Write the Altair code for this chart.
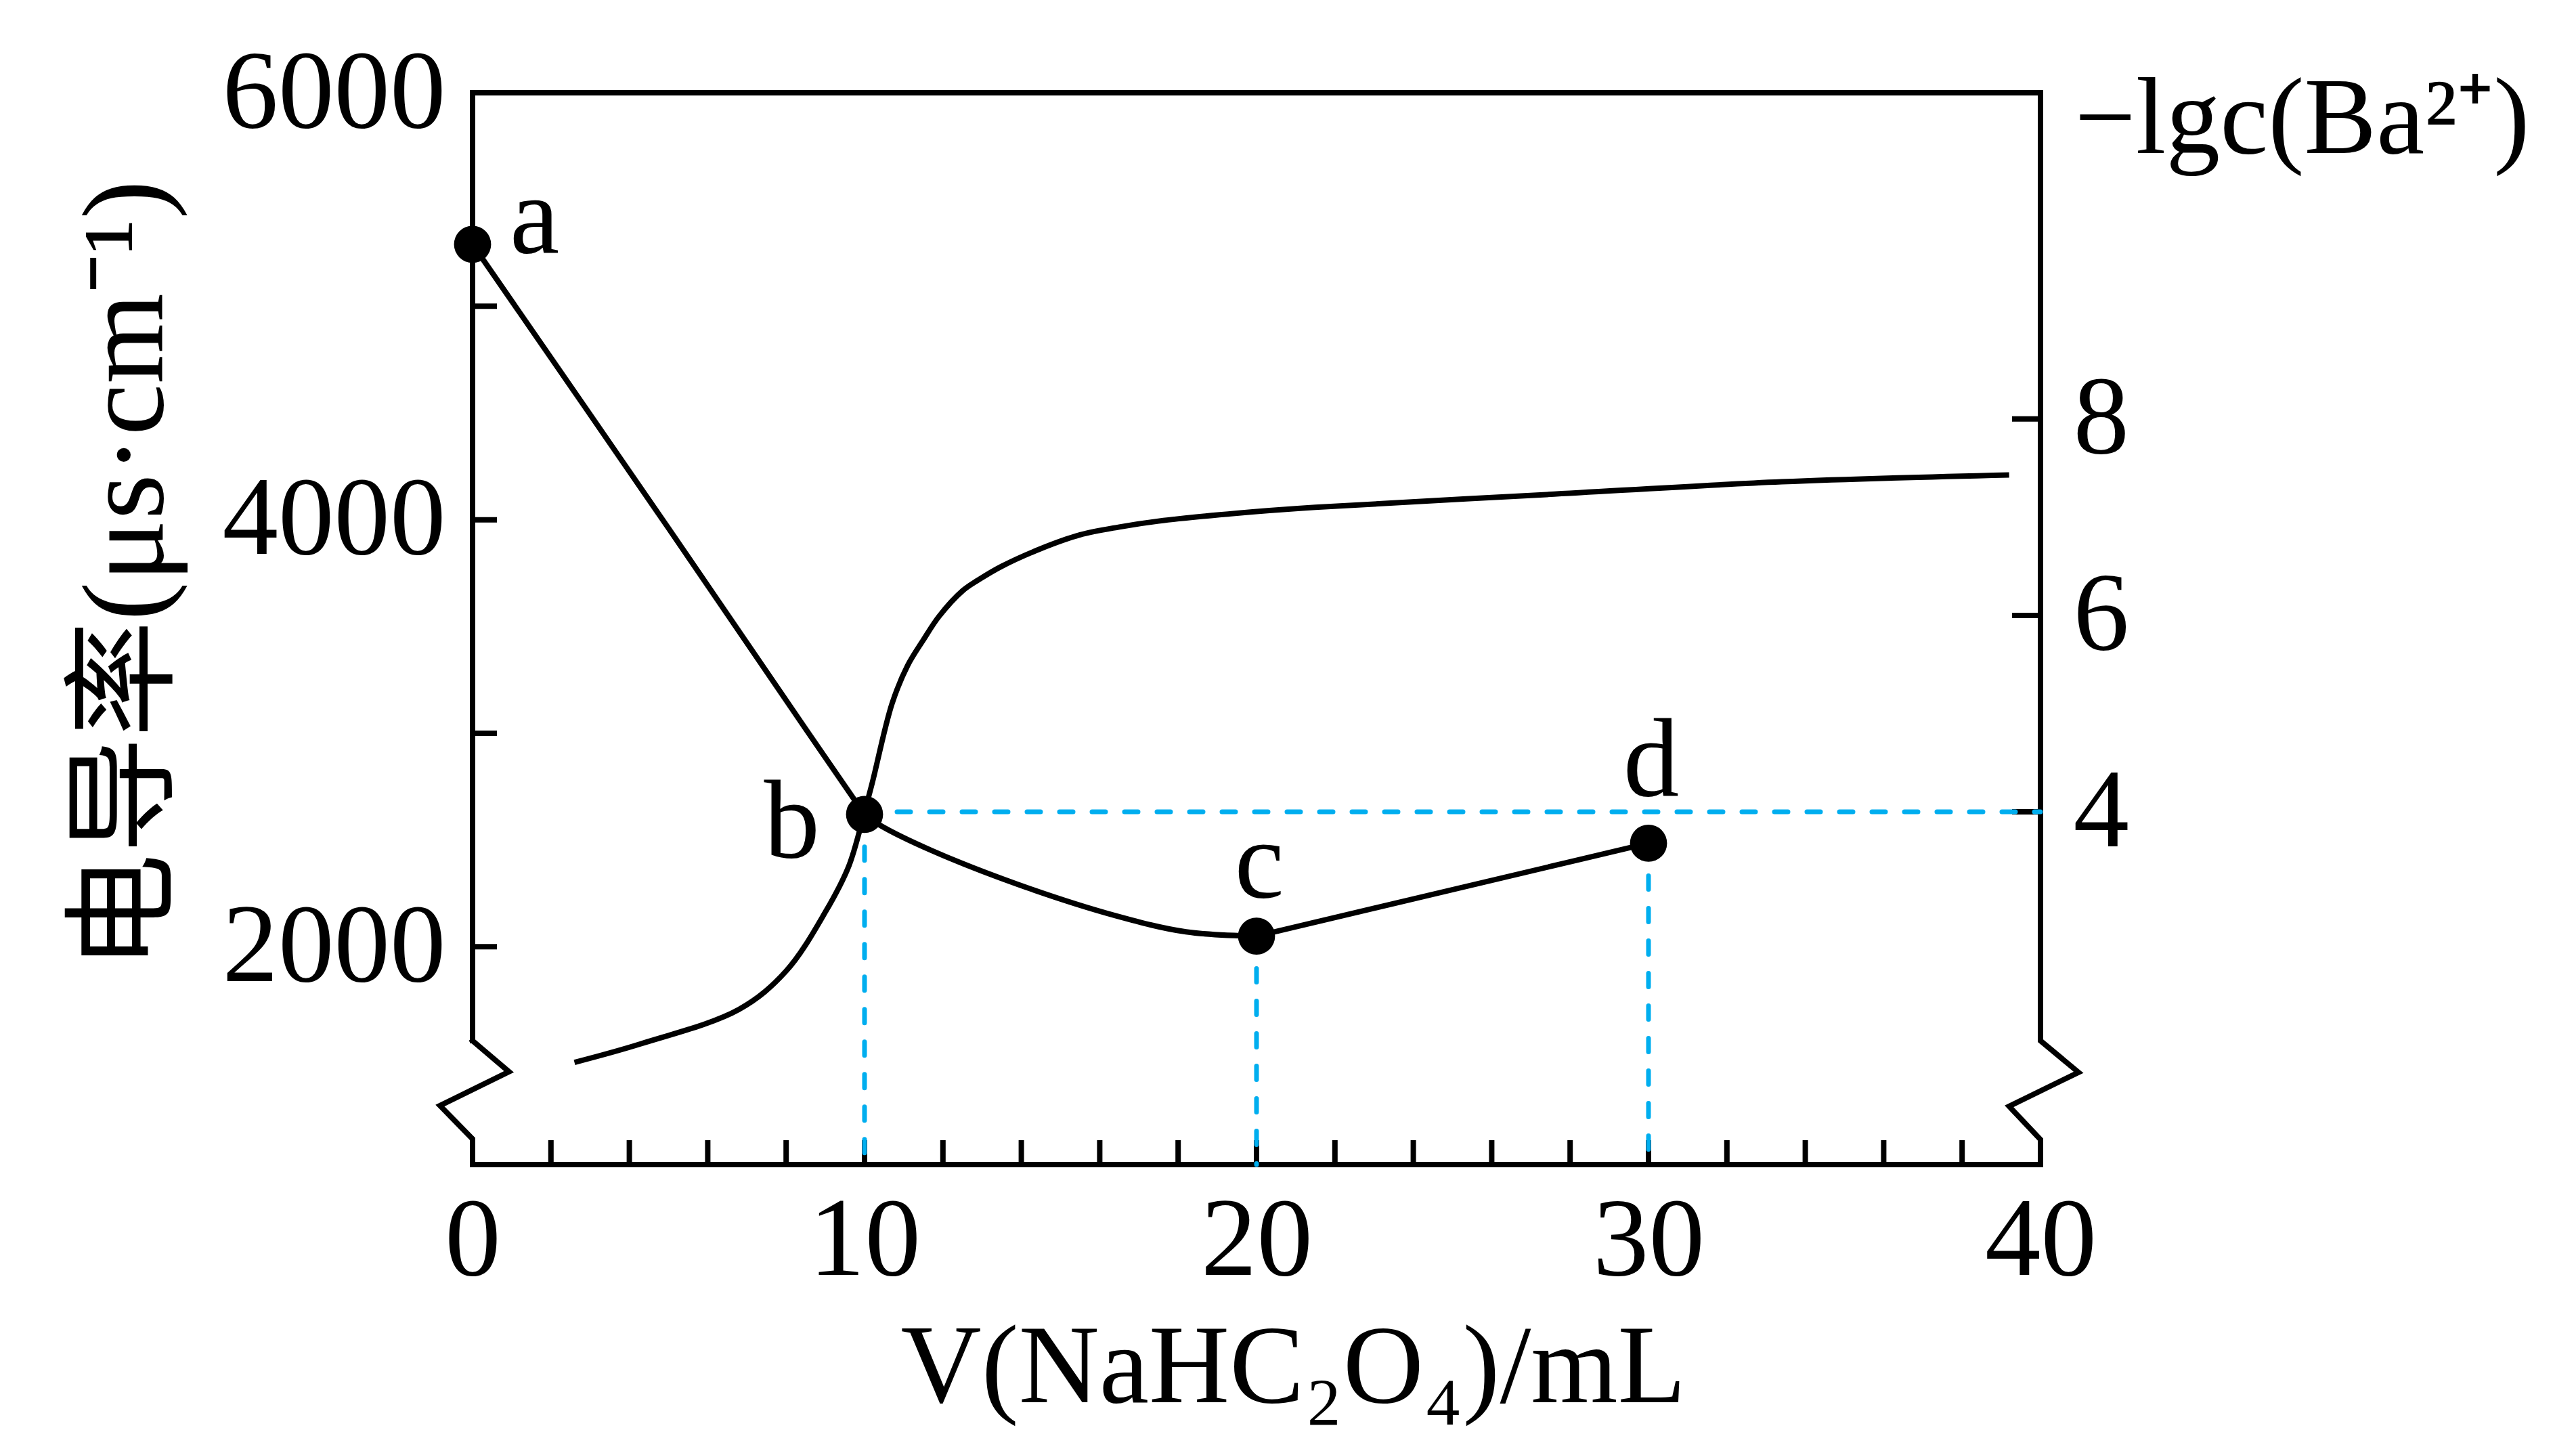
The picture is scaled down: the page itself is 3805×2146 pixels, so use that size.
import altair as alt
import pandas as pd

# ---------------- data ----------------
# conductivity curve (left axis), three segments a-b, b-c, c-d
vol_ab = [0, 5, 8.5, 10]
cond_ab = [5290, 3960, 3020, 2620]
vol_bc = [10, 10.4, 11.7, 13.9, 16.4, 18.2, 20]
cond_bc = [2620, 2569, 2452, 2293, 2146, 2070, 2050]
vol_cd = [20, 30]
cond_cd = [2050, 2485]

# -lg c(Ba2+) curve (right axis)
vol_ba = [2.6, 4.3, 6.8, 8.0, 9.0, 9.6, 10.0, 10.2, 10.7, 11.1, 11.5, 11.9, 12.5,
          12.9, 13.5, 14.5, 15.5, 16.5, 17.5, 19.5, 21.5, 27.4, 33.4, 39.2]
lg_ba = [1.45, 1.64, 1.99, 2.38, 2.98, 3.45, 4.0, 4.3, 5.1, 5.49, 5.75, 5.99, 6.25,
         6.36, 6.5, 6.68, 6.82, 6.90, 6.96, 7.04, 7.10, 7.23, 7.36, 7.43]

# marked points
pt_names = ["a", "b", "c", "d"]
pt_vol = [0, 10, 20, 30]
pt_cond = [5290, 2620, 2050, 2485]

# guide line (blue dashed) at -lgc = 4 from b to the right axis
guide_lg = 4
guide_from = 10
guide_to = 40

# axes
x_labels = [0, 10, 20, 30, 40]
x_minor = [2, 4, 6, 8, 10, 12, 14, 16, 18, 20, 22, 24, 26, 28, 30, 32, 34, 36, 38]
left_labels = [2000, 4000, 6000]
left_ticks = [2000, 3000, 4000, 5000]
right_labels = [4, 6, 8]
right_ticks = [4, 6, 8]

x_domain = [0, 40]
left_domain = [980, 6000]
right_domain = [0.41, 11.32]

# frame with axis-break zigzags (data units)
frame_x = [0, 0, 40, 40, 40.97, 39.2, 40, 40, 0, 0, -0.83, 0.93, 0]
frame_y = [1560, 6000, 6000, 1560, 1412, 1253, 1097, 980, 980, 1100, 1256, 1415, 1560]

# ---------------- styling ----------------
FONT = "'Liberation Serif', 'Times New Roman', serif"
CJK_FONT = "'Liberation Serif', 'Noto Sans CJK SC', serif"
FS = 165
BLUE = "#00AEEF"
LW = 8
FW = 8

X = alt.Scale(domain=x_domain, nice=False, zero=False)
YL = alt.Scale(domain=left_domain, nice=False, zero=False)
YR = alt.Scale(domain=right_domain, nice=False, zero=False)

# ---------------- tables ----------------
curve_df = pd.DataFrame({
    "V": vol_ab + vol_bc + vol_cd,
    "G": cond_ab + cond_bc + cond_cd,
    "seg": ["ab"] * len(vol_ab) + ["bc"] * len(vol_bc) + ["cd"] * len(vol_cd),
})
ba_df = pd.DataFrame({"V": vol_ba, "L": lg_ba})
pts_df = pd.DataFrame({"name": pt_names, "V": pt_vol, "G": pt_cond})
frame_df = pd.DataFrame({"V": frame_x, "G": frame_y, "i": list(range(len(frame_x)))})
xtick_df = pd.DataFrame({"V": x_minor, "G": [left_domain[0]] * len(x_minor)})
ltick_df = pd.DataFrame({"V": [0] * len(left_ticks), "G": left_ticks})
rtick_df = pd.DataFrame({"V": [40] * len(right_ticks), "L": right_ticks})
vguide_df = pd.DataFrame({"V": pt_vol[1:], "G": pt_cond[1:], "G2": [left_domain[0]] * 3})
hguide_df = pd.DataFrame({"V": [guide_from], "V2": [guide_to], "L": [guide_lg]})

x_axis = alt.Axis(orient="bottom", values=x_labels, ticks=False, domain=False, grid=False,
                  format="d", labelFont=FONT, labelFontSize=FS, labelColor="black",
                  labelLimit=0, labelPadding=32, labelFlush=False, labelOverlap=False,
                  title="V(NaHC₂O₄)/mL", titleFont=FONT, titleFontSize=FS,
                  titleFontWeight="normal", titleColor="black", titleLimit=0,
                  titleX=1212, titleY=350, titleAlign="center",
                  titleBaseline="alphabetic")
left_axis = alt.Axis(orient="left", values=left_labels, ticks=False, domain=False,
                     grid=False, format="d", labelFont=FONT, labelFontSize=FS,
                     labelColor="black", labelLimit=0, labelPadding=40,
                     labelFlush=False, labelOverlap=False,
                     title="电导率(μs·cm⁻¹)", titleFont=CJK_FONT, titleFontSize=172,
                     titleFontWeight="normal", titleColor="black", titleLimit=0,
                     titleX=-511, titleY=712, titleBaseline="middle", titleAngle=270)
right_axis = alt.Axis(orient="right", values=right_labels, ticks=False, domain=False,
                      grid=False, format="d", labelFont=FONT, labelFontSize=FS,
                      labelColor="black", labelLimit=0, labelPadding=48,
                      labelFlush=False, labelOverlap=False,
                      title="−lgc(Ba²⁺)", titleFont=FONT, titleFontSize=160,
                      titleFontWeight="normal", titleColor="black", titleAngle=0,
                      titleLimit=0, titleX=50, titleY=88, titleAlign="left",
                      titleBaseline="alphabetic")


def xq():
    # every layer carries the same x axis so that the layers merge it into one
    return alt.X("V:Q", scale=X, axis=x_axis)


def yl(axis=None):
    return alt.Y("G:Q", scale=YL, axis=axis)


def yr(axis=None):
    return alt.Y("L:Q", scale=YR, axis=axis)


frame = alt.Chart(frame_df).mark_line(color="black", strokeWidth=FW, strokeJoin="miter",
                                      strokeCap="square").encode(
    x=xq(), y=yl(left_axis), order="i:O")

xticks = alt.Chart(xtick_df).mark_tick(orient="vertical", size=36, thickness=FW,
                                       color="black", yOffset=-18, opacity=1).encode(
    x=xq(), y=yl())
lticks = alt.Chart(ltick_df).mark_tick(orient="horizontal", size=36, thickness=FW,
                                       color="black", xOffset=18, opacity=1).encode(
    x=xq(), y=yl())

vguides = alt.Chart(vguide_df).mark_rule(color=BLUE, strokeWidth=7, strokeDash=[20, 28],
                                         strokeCap="round").encode(
    x=xq(), y=yl(), y2="G2:Q")
hguide = alt.Chart(hguide_df).mark_rule(color=BLUE, strokeWidth=7, strokeDash=[20, 28],
                                        strokeCap="round").encode(
    x=xq(), x2="V2:Q", y=yr())

ba_line = alt.Chart(ba_df).mark_line(color="black", strokeWidth=LW,
                                     interpolate="catmull-rom").encode(
    x=xq(), y=yr(right_axis))
rticks = alt.Chart(rtick_df).mark_tick(orient="horizontal", size=42, thickness=FW,
                                       color="black", xOffset=-21, opacity=1).encode(
    x=xq(), y=yr())

curve = alt.Chart(curve_df).mark_line(color="black", strokeWidth=LW,
                                      interpolate="catmull-rom").encode(
    x=xq(), y=yl(), detail="seg:N")

points = alt.Chart(pts_df).mark_circle(color="black", size=3000, opacity=1).encode(
    x=xq(), y=yl())

label_style = dict(font=FONT, fontSize=FS, color="black", baseline="alphabetic")
lab_a = alt.Chart(pts_df).transform_filter("datum.name == 'a'").mark_text(
    align="left", dx=55, dy=12, **label_style).encode(x=xq(), y=yl(), text="name:N")
lab_b = alt.Chart(pts_df).transform_filter("datum.name == 'b'").mark_text(
    align="right", dx=-66, dy=63, **label_style).encode(x=xq(), y=yl(), text="name:N")
lab_c = alt.Chart(pts_df).transform_filter("datum.name == 'c'").mark_text(
    align="center", dx=4, dy=-58, **label_style).encode(x=xq(), y=yl(), text="name:N")
lab_d = alt.Chart(pts_df).transform_filter("datum.name == 'd'").mark_text(
    align="center", dx=4, dy=-70, **label_style).encode(x=xq(), y=yl(), text="name:N")

chart = alt.layer(
    frame, xticks, ba_line, lticks, rticks, vguides, hguide, curve, points,
    lab_a, lab_b, lab_c, lab_d,
).resolve_scale(y="independent").properties(
    width=2316, height=1583,
    autosize=alt.AutoSizeParams(type="none"),
    padding={"left": 690, "top": 129, "right": 780, "bottom": 400},
    background="white",
).configure_view(stroke=None)

chart.save("out.html", embed_options={"renderer": "svg", "actions": False})
